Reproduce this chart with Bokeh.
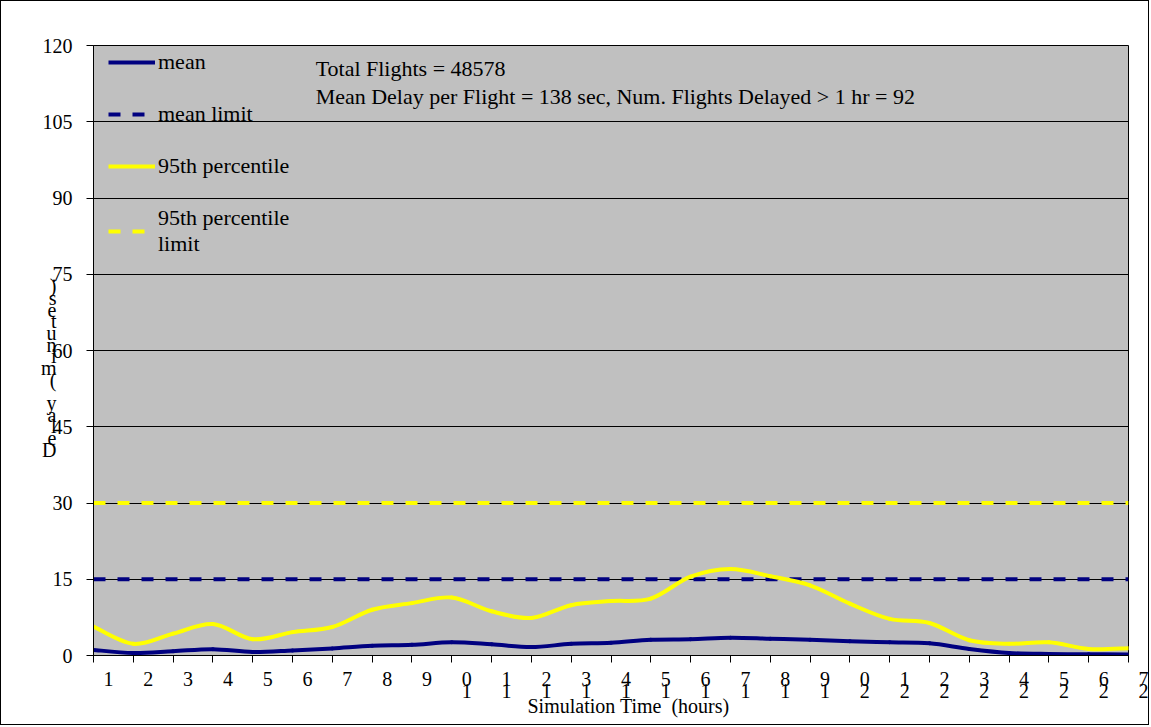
from bokeh.plotting import figure
from bokeh.models import (Range1d, FixedTicker, Legend, LegendItem, Label,
                          ColumnDataSource, Grid)
from bokeh.embed import file_html
from bokeh.resources import INLINE

# ---------------- data ----------------
hours = list(range(1, 28))
hour_labels = [str(h) for h in hours]
mean_delay = [1.1, 0.5, 0.85, 1.25, 0.7, 1.0, 1.4, 1.9, 2.1, 2.6, 2.2, 1.65, 2.3, 2.5,
              3.1, 3.2, 3.5, 3.3, 3.1, 2.8, 2.6, 2.4, 1.3, 0.5, 0.3, 0.25, 0.2]
p95_delay = [5.7, 2.3, 4.3, 6.2, 3.2, 4.6, 5.6, 9.0, 10.3, 11.4, 8.7, 7.4, 9.9, 10.7,
             11.2, 15.5, 17.0, 15.6, 13.8, 10.2, 7.2, 6.4, 3.0, 2.3, 2.6, 1.3, 1.45]
mean_limit = 15
p95_limit = 30
y_ticks = [0, 15, 30, 45, 60, 75, 90, 105, 120]
series_names = ["mean", "mean limit", "95th percentile", "95th percentile\nlimit"]
y_axis_title = "Delay (minutes)."
x_axis_title = "Simulation Time  (hours)"
note_lines = ["Total Flights = 48578",
              "Mean Delay per Flight = 138 sec, Num. Flights Delayed > 1 hr = 92"]

# ---------------- style ----------------
FONT = "Liberation Serif"
NAVY = "#000080"
YELLOW = "#ffff00"
GREY = "#c0c0c0"
NB = "\u00a0"

p = figure(width=1149, height=725, x_range=Range1d(hours[0], hours[-1]),
           y_range=Range1d(y_ticks[0], y_ticks[-1]), output_backend="svg",
           toolbar_location=None, min_border_left=92, min_border_right=22,
           min_border_top=44, min_border_bottom=71)
p.styles = {"border": "1px solid black"}
p.background_fill_color = GREY
p.border_fill_color = "white"
p.outline_line_color = "black"
p.outline_line_width = 1

# x axis: tick labels drawn stacked and shifted right of their tick, as in the original
p.xaxis.ticker = FixedTicker(ticks=hours)
p.xaxis.major_label_overrides = {
    h: "\n".join(NB * 6 + c for c in reversed(s)) for h, s in zip(hours, hour_labels)}
p.xaxis.major_label_text_font = FONT
p.xaxis.major_label_text_font_size = "20px"
p.xaxis.major_label_text_line_height = 0.58
p.xaxis.major_label_text_color = "black"
p.xaxis.major_label_standoff = 5
p.xaxis.major_tick_out = 7
p.xaxis.major_tick_in = 0
p.xaxis.minor_tick_line_color = None
p.xaxis.axis_line_color = "black"
p.xaxis.major_tick_line_color = "black"
p.xaxis.axis_label = NB * 7 + x_axis_title.replace("  ", NB + " ")
p.xaxis.axis_label_text_font = FONT
p.xaxis.axis_label_text_font_size = "20px"
p.xaxis.axis_label_text_font_style = "normal"
p.xaxis.axis_label_text_color = "black"
p.xaxis.axis_label_standoff = -10

# y axis
p.yaxis.ticker = FixedTicker(ticks=y_ticks)
p.yaxis.major_tick_out = 7
p.yaxis.major_tick_in = 0
p.yaxis.minor_tick_line_color = None
p.yaxis.major_label_standoff = 14
p.yaxis.major_label_text_font = FONT
p.yaxis.major_label_text_font_size = "20px"
p.yaxis.major_label_text_color = "black"
p.yaxis.axis_line_color = "black"
p.yaxis.major_tick_line_color = "black"
p.yaxis.axis_label = "\n".join([NB] * 2 + [c if c != " " else NB for c in reversed(y_axis_title)])
p.yaxis.axis_label_orientation = "horizontal"
p.yaxis.axis_label_text_font = FONT
p.yaxis.axis_label_text_font_size = "20px"
p.yaxis.axis_label_text_font_style = "normal"
p.yaxis.axis_label_text_color = "black"
p.yaxis.axis_label_text_line_height = 0.53
p.yaxis.axis_label_text_align = "center"
p.yaxis.axis_label_standoff = -17

# grid: lines hidden behind the legend start right of it
p.xgrid.visible = False
p.ygrid.ticker = FixedTicker(ticks=[t for t in y_ticks if t not in (90, 105)])
p.ygrid.grid_line_color = "black"
upper_grid = Grid(dimension=1, ticker=FixedTicker(ticks=[90, 105]),
                  bounds=(6.53, hours[-1]), grid_line_color="black")
p.add_layout(upper_grid)


def bezier_source(xs, ys):
    n = len(xs)
    d = dict(x0=[], y0=[], x1=[], y1=[], cx0=[], cy0=[], cx1=[], cy1=[])
    for i in range(n - 1):
        a = max(i - 1, 0)
        b = min(i + 2, n - 1)
        d["x0"].append(xs[i]); d["y0"].append(ys[i])
        d["x1"].append(xs[i + 1]); d["y1"].append(ys[i + 1])
        d["cx0"].append(xs[i] + (xs[i + 1] - xs[a]) / 6)
        d["cy0"].append(ys[i] + (ys[i + 1] - ys[a]) / 6)
        d["cx1"].append(xs[i + 1] - (xs[b] - xs[i]) / 6)
        d["cy1"].append(ys[i + 1] - (ys[b] - ys[i]) / 6)
    return ColumnDataSource(d)


bz = dict(x0="x0", y0="y0", x1="x1", y1="y1", cx0="cx0", cy0="cy0", cx1="cx1", cy1="cy1")

# series (Excel order: mean, mean limit, 95th, 95th limit)
p.bezier(source=bezier_source(hours, mean_delay), line_color=NAVY, line_width=4,
         line_cap="round", **bz)
r_mlim = p.line(hours, [mean_limit] * len(hours), line_color=NAVY, line_width=4,
                line_dash="12 12")
p.bezier(source=bezier_source(hours, p95_delay), line_color=YELLOW, line_width=4,
         line_cap="round", **bz)
r_plim = p.line(hours, [p95_limit] * len(hours), line_color=YELLOW, line_width=4,
                line_dash="12 12")

# legend proxies for the smooth curves
r_mean = p.line(hours, mean_delay, line_color=NAVY, line_width=4, visible=False)
r_p95 = p.line(hours, p95_delay, line_color=YELLOW, line_width=4, visible=False)

legend = Legend(items=[
    LegendItem(label=series_names[0], renderers=[r_mean]),
    LegendItem(label=series_names[1], renderers=[r_mlim]),
    LegendItem(label=series_names[2], renderers=[r_p95]),
    LegendItem(label=series_names[3], renderers=[r_plim]),
], location=(15, 398), padding=0, margin=0, spacing=26, glyph_width=47,
   glyph_height=24, label_height=24, label_standoff=3,
   label_text_font=FONT, label_text_font_size="22px", label_text_color="black",
   background_fill_alpha=0, border_line_color=None)
p.add_layout(legend)

# note
p.add_layout(Label(x=6.58, y=118, text="\n".join(note_lines), text_align="left",
                   text_baseline="top", text_font=FONT, text_font_size="22px",
                   text_line_height=1.15, text_color="black"))

open("out.html", "w").write(file_html(p, INLINE))
